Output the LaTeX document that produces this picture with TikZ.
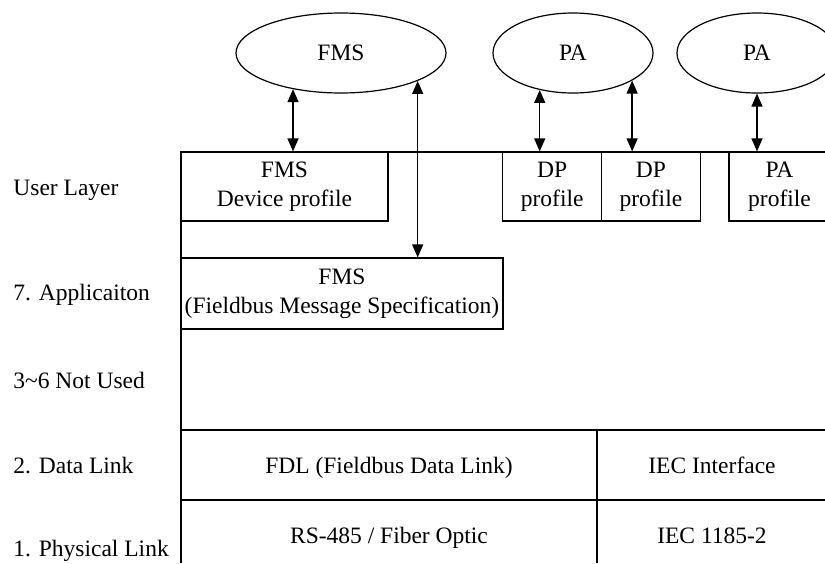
\documentclass[tikz,border=0pt]{standalone}
\usepackage{fontspec}
\setmainfont{Liberation Serif}
\usepackage{tikz}
\usetikzlibrary{shapes,arrows.meta,positioning}

\begin{document}
\begin{tikzpicture}[x=0.5pt,y=-0.5pt,font=\fontsize{11.75pt}{14.5pt}\selectfont]
  \tikzstyle{app} = [ellipse, draw, line width=0.6pt, inner sep=0pt, minimum height=40pt]
  \tikzstyle{profile} = [rectangle, draw, line width=0.6pt, align=center, inner sep=0pt, minimum height=34.5pt]
  \tikzstyle{layer} = [anchor=base west, inner sep=0pt]
  \tikzstyle{cell} = [anchor=base, inner sep=0pt]
  \tikzstyle{line} = [draw, {Triangle[length=6.5pt,width=5.5pt]}-{Triangle[length=6.5pt,width=5.5pt]}, line width=0.65pt]
  \tikzstyle{frame} = [line width=1pt]
  \tikzstyle{grid} = [line width=0.6pt]

  \useasboundingbox (0,0) rectangle (825,563);
  \clip (0,0) rectangle (825,563);

  % Applications
  \node[app, minimum width=105pt] (fms) at (341,53) {FMS};
  \node[app, minimum width=80pt] (pa1) at (573,53) {PA};
  \node[app, minimum width=80pt] (pa2) at (757,53) {PA};

  % Layer names
  \node[layer] (user) at (13,195) {User Layer};
  \node[layer] (l7) at (13,300) {7. Applicaiton};
  \node[layer] (l36) at (13,388) {3\textasciitilde6 Not Used};
  \node[layer] (l2) at (13,473) {2. Data Link};
  \node[layer] (l1) at (13,556) {1. Physical Link};

  % Profiles
  \node[profile, minimum width=103.5pt] (fmsdev) at (284.5,186.5) {FMS\\Device profile};
  \node[profile, minimum width=49.5pt] (dp1) at (552.2,186.5) {DP\\profile};
  \node[profile, minimum width=49.2pt] (dp2) at (650.9,186.5) {DP\\profile};
  \node[profile, minimum width=50.5pt] (paprof) at (779.5,186.5) {PA\\profile};
  \node[profile, minimum width=161pt, minimum height=35.5pt] (fmsapp) at (342,293.5) {FMS\\(Fieldbus Message Specification)};

  % Frame
  \draw[frame] (181,563) -- (181,152) -- (825,152);

  % Lower layers
  \draw[grid] (181,430) -- (825,430);
  \draw[grid] (181,500) -- (825,500);
  \draw[grid] (597,430) -- (597,563);
  \node[cell] (fdl) at (389,473) {FDL (Fieldbus Data Link)};
  \node[cell] (iec) at (712,473) {IEC Interface};
  \node[cell] (rs) at (389,543) {RS-485 / Fiber Optic};
  \node[cell] (iecphy) at (712,543) {IEC 1185-2};

  % Links
  \draw[line] (fms.217) -- (fms.217 |- fmsdev.north);
  \draw[line] (fms.340) -- (fms.340 |- fmsapp.north);
  \draw[line] (pa1.228) -- (pa1.228 |- dp1.north);
  \draw[line] (pa1.335) -- (pa1.335 |- dp2.north);
  \draw[line] (pa2.south) -- (paprof.north -| pa2.south);
\end{tikzpicture}
\end{document}
